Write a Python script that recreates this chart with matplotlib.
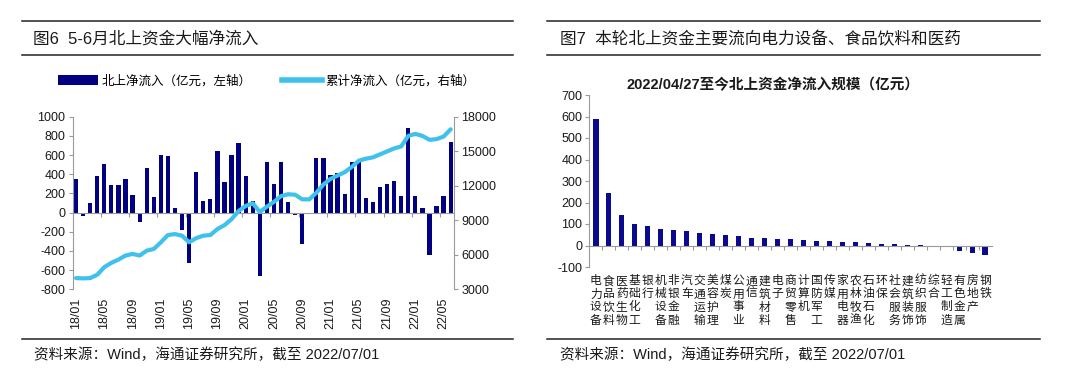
import matplotlib
matplotlib.use("Agg")
import matplotlib.pyplot as plt
from matplotlib.lines import Line2D
from matplotlib.patches import Patch
import numpy as np

plt.rcParams['font.family'] = ['Liberation Sans', 'Noto Sans CJK SC']
plt.rcParams['axes.unicode_minus'] = False

# ---- Fig 6: monthly northbound net inflow (left axis) + cumulative (right axis), 2018/01 - 2022/06
net_inflow = [355, -35, 103, 386, 503, 283, 283, 355, 179, -103,
              466, 166, 600, 593, 52, -179, -528, 424, 124, 138,
              638, 324, 600, 724, 383, 121, -666, 528, 300, 524,
              110, -28, -325, -6, 574, 574, 397, 414, 190, 524,
              552, 155, 114, 269, 300, 328, 172, 879, 172, 48,
              -441, 69, 172, 738]
cumulative = [3975, 3950, 3975, 4267, 4925, 5300, 5583, 5933, 6075, 5933,
              6358, 6508, 7083, 7717, 7800, 7658, 7083, 7450, 7658, 7717,
              8233, 8575, 9092, 9808, 10242, 10475, 9725, 10183, 10600, 11100,
              11260, 11217, 10817, 10817, 11392, 12108, 12600, 12883, 13175, 13633,
              14175, 14350, 14467, 14725, 14983, 15242, 15417, 16333, 16508, 16333,
              15992, 16050, 16275, 16908]
month_ticks = ["18/01", "18/05", "18/09", "19/01", "19/05", "19/09", "20/01",
               "20/05", "20/09", "21/01", "21/05", "21/09", "22/01", "22/05"]

# ---- Fig 7: net inflow by industry since 2022/04/27
industries = ["电力设备", "食品饮料", "医药生物", "基础化工", "银行", "机械设备", "非银金融",
              "汽车", "交通运输", "美容护理", "煤炭", "公用事业", "通信", "建筑材料", "电子",
              "商贸零售", "计算机", "国防军工", "传媒", "家用电器", "农林牧渔", "石油石化",
              "环保", "社会服务", "建筑装饰", "纺织服饰", "综合", "轻工制造", "有色金属",
              "房地产", "钢铁"]
industry_inflow = [588, 245, 142, 102, 89, 77, 74, 68, 58, 52, 48, 46, 34, 34, 31,
                   28, 25, 23, 20, 17, 15, 12, 9, 5, 3, 2, -3, -8, -26, -34, -46]

NAVY = "#000080"
SKY = "#3FC1EC"
GRID = "#9A9A9A"
TXT = "#1A1A1A"

W, H = 1080, 376
fig = plt.figure(figsize=(W / 100, H / 100), dpi=100)


def fx(px):
    return px / W


def fy(py):
    return 1 - py / H


def rule(x0, x1, y):
    fig.add_artist(Line2D([fx(x0), fx(x1)], [fy(y), fy(y)], transform=fig.transFigure,
                          color="#222222", lw=1.1))


# header / footer rules and texts
for x0, x1 in [(22, 513), (547, 1040)]:
    rule(x0, x1, 21)
    rule(x0, x1, 55)
    rule(x0, x1, 339)

fig.text(fx(33), fy(39), "图6  5-6月北上资金大幅净流入", fontsize=12, color=TXT, va="center")
fig.text(fx(560), fy(39), "图7  本轮北上资金主要流向电力设备、食品饮料和医药", fontsize=12,
         color=TXT, va="center")
src = "资料来源：Wind，海通证券研究所，截至 2022/07/01"
fig.text(fx(34), fy(355), src, fontsize=10.5, color=TXT, va="center")
fig.text(fx(560), fy(355), src, fontsize=10.5, color=TXT, va="center")

# ---------------- left chart ----------------
n = len(net_inflow)
x = np.arange(n)
ax1 = fig.add_axes([fx(72.5), fy(289.3), fx(454.2 - 72.5), (289.3 - 116.7) / H])
ax1.bar(x, net_inflow, width=0.6, color=NAVY, zorder=2)
ax1.set_xlim(-0.5, n - 0.5)
ax1.set_ylim(-800, 1000)
ax1.set_yticks(np.arange(-800, 1001, 200))
ax1.spines[["top", "right"]].set_visible(False)
ax1.spines["left"].set_color(GRID)
ax1.spines["bottom"].set_color(GRID)
ax1.spines["bottom"].set_position(("data", 0))
ax1.set_xticks(np.arange(3.5, n - 1, 4))
ax1.set_xticklabels([])
ax1.tick_params(axis="x", length=3, color=GRID)
ax1.tick_params(axis="y", length=3, color=GRID, labelsize=9, labelcolor=TXT, pad=2)

sec1 = ax1.secondary_xaxis("bottom")
sec1.set_xticks(np.arange(0, n, 4), month_ticks, rotation=90)
sec1.tick_params(length=0, pad=6, labelsize=9, labelcolor=TXT)
sec1.spines["bottom"].set_visible(False)

ax2 = ax1.twinx()
ax2.plot(x, cumulative, color=SKY, lw=3, solid_capstyle="round", zorder=3)
ax2.set_ylim(3000, 18000)
ax2.set_yticks(np.arange(3000, 18001, 3000))
ax2.spines[["top", "left", "bottom"]].set_visible(False)
ax2.spines["right"].set_color(GRID)
ax2.tick_params(axis="y", length=3, color=GRID, labelsize=9, labelcolor=TXT, pad=2)

handles = [Patch(facecolor=NAVY, edgecolor="none"),
           Line2D([], [], color=SKY, lw=4)]
fig.legend(handles, ["北上净流入（亿元，左轴）", "累计净流入（亿元，右轴）"],
           loc="center left", bbox_to_anchor=(fx(58), fy(81)), ncol=2, frameon=False,
           fontsize=9, handlelength=3.2, handleheight=0.9, handletextpad=0.3,
           columnspacing=2.4, borderpad=0, borderaxespad=0)

# ---------------- right chart ----------------
m = len(industry_inflow)
xi = np.arange(m)
ax3 = fig.add_axes([fx(589.3), fy(267), fx(991.7 - 589.3), (267 - 95) / H])
ax3.bar(xi, industry_inflow, width=0.42, color="#0A0A8E", zorder=2)
ax3.set_xlim(-0.5, m - 0.5)
ax3.set_ylim(-100, 700)
ax3.set_yticks(np.arange(-100, 701, 100))
ax3.spines[["top", "right"]].set_visible(False)
ax3.spines["left"].set_color(GRID)
ax3.spines["bottom"].set_color(GRID)
ax3.spines["bottom"].set_position(("data", 0))
ax3.set_xticks(np.arange(0.5, m - 1, 1))
ax3.set_xticklabels([])
ax3.tick_params(axis="x", length=3, color=GRID)
ax3.tick_params(axis="y", length=3, color=GRID, labelsize=9, labelcolor=TXT, pad=2)

sec3 = ax3.secondary_xaxis("bottom")
sec3.set_xticks(xi, ["\n".join(s) for s in industries])
sec3.tick_params(length=0, pad=6, labelsize=8.5, labelcolor=TXT)
for lab in sec3.get_xticklabels():
    lab.set_linespacing(1.12)
sec3.spines["bottom"].set_visible(False)

fig.text(fx(773), fy(85), "2022/04/27至今北上资金净流入规模（亿元）", fontsize=10.5,
         fontweight="bold", color=TXT, ha="center", va="center")

fig.savefig("out.png", dpi=100)
